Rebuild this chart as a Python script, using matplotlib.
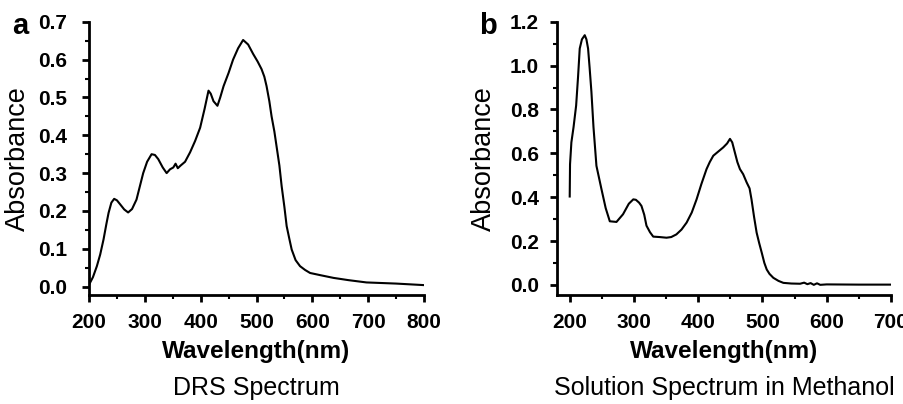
import matplotlib
matplotlib.use('Agg')
import matplotlib.pyplot as plt
from matplotlib.ticker import MultipleLocator

plt.rcParams['font.family'] = ['Liberation Sans', 'DejaVu Sans']

# DRS spectrum (panel a)
drs_wl = [200, 207, 214, 220, 226, 231, 235, 240, 245, 250, 256, 263, 270, 277, 285, 291, 297,
          304, 312, 318, 324, 332, 339, 345, 351, 355, 359, 364, 372, 381, 390, 399, 407, 414,
          418, 423, 430, 435, 441, 450, 458, 467, 476, 485, 494, 502, 509, 514, 518, 523, 527,
          532, 536, 541, 545, 550, 554, 559, 563, 570, 578, 587, 596, 615, 638, 665, 697, 750, 799]
drs_abs = [0.005, 0.025, 0.054, 0.085, 0.125, 0.165, 0.195, 0.222, 0.232, 0.228, 0.217, 0.204, 0.196,
           0.205, 0.23, 0.265, 0.30, 0.33, 0.35, 0.348, 0.337, 0.315, 0.30, 0.31, 0.315, 0.325,
           0.313, 0.32, 0.33, 0.355, 0.385, 0.42, 0.47, 0.518, 0.51, 0.49, 0.478, 0.50, 0.53,
           0.565, 0.60, 0.63, 0.652, 0.64, 0.615, 0.595, 0.575, 0.555, 0.53, 0.49, 0.45, 0.41,
           0.37, 0.32, 0.266, 0.21, 0.16, 0.125, 0.098, 0.07, 0.054, 0.044, 0.036, 0.03, 0.023,
           0.017, 0.011, 0.008, 0.004]

# Solution spectrum in methanol (panel b)
sol_wl = [200, 200.5, 202.6, 206, 210, 213, 215.6, 219, 223.4, 226, 228.6, 231, 233.8, 237,
          241.6, 249.4, 256, 262.4, 272.8, 283, 292, 299, 303, 308, 311.7, 316, 319.5, 325, 330,
          340, 350.7, 358, 366, 374, 382, 390, 397.5, 405, 413, 418, 423.5, 430, 439, 445, 449.5,
          453, 457, 461, 465, 470, 475.5, 480, 483, 487, 491, 495, 499, 503, 506.7, 511, 517,
          525, 532.6, 545, 558.6, 565, 570, 575, 580, 585, 590, 600, 650, 699]
sol_abs = [0.403, 0.55, 0.65, 0.72, 0.818, 0.95, 1.078, 1.12, 1.139, 1.12, 1.078, 0.99, 0.88,
           0.72, 0.543, 0.437, 0.35, 0.29, 0.287, 0.322, 0.37, 0.39, 0.388, 0.375, 0.36, 0.32,
           0.27, 0.24, 0.22, 0.218, 0.215, 0.218, 0.23, 0.252, 0.284, 0.33, 0.39, 0.46, 0.528,
           0.56, 0.589, 0.605, 0.627, 0.645, 0.666, 0.65, 0.605, 0.56, 0.528, 0.505, 0.467, 0.44,
           0.39, 0.31, 0.238, 0.19, 0.146, 0.1, 0.07, 0.05, 0.032, 0.018, 0.009, 0.006, 0.005,
           0.01, 0.003, 0.008, 0.0, 0.007, 0.0, 0.002, 0.001, 0.001]

fig = plt.figure(figsize=(9.04, 4.04), dpi=100)
ax1 = fig.add_axes([0.0985, 0.270, 0.3705, 0.676])
ax2 = fig.add_axes([0.616, 0.270, 0.3695, 0.676])

ax1.plot(drs_wl, drs_abs, color='black', linewidth=1.5)
ax2.plot(sol_wl, sol_abs, color='black', linewidth=1.5)

ax1.set_xlim(200, 800)
ax1.set_ylim(-0.022, 0.7)
ax1.xaxis.set_major_locator(MultipleLocator(100))
ax1.xaxis.set_minor_locator(MultipleLocator(50))
ax1.yaxis.set_major_locator(MultipleLocator(0.1))
ax1.yaxis.set_minor_locator(MultipleLocator(0.05))
ax1.yaxis.set_major_formatter(plt.FormatStrFormatter('%.1f'))

ax2.set_xlim(180, 700)
ax2.set_ylim(-0.046, 1.2)
ax2.xaxis.set_major_locator(MultipleLocator(100))
ax2.xaxis.set_minor_locator(MultipleLocator(50))
ax2.yaxis.set_major_locator(MultipleLocator(0.2))
ax2.yaxis.set_minor_locator(MultipleLocator(0.1))
ax2.yaxis.set_major_formatter(plt.FormatStrFormatter('%.1f'))

for ax, letter, lx, title, ypad in [(ax1, 'a', 20, 'DRS Spectrum', 11),
                                    (ax2, 'b', 488, 'Solution Spectrum in Methanol', 8)]:
    for side in ['top', 'right']:
        ax.spines[side].set_visible(False)
    for side in ['left', 'bottom']:
        ax.spines[side].set_linewidth(2.0)
    ax.tick_params(which='major', direction='out', length=5, width=2.0, labelsize=15)
    ax.tick_params(which='minor', direction='out', length=3, width=1.5)
    ax.tick_params(axis='x', which='major', pad=8)
    ax.tick_params(axis='y', which='major', pad=ypad)
    for lab in ax.get_xticklabels() + ax.get_yticklabels():
        lab.set_fontweight('bold')
    ax.set_ylabel('Absorbance', fontsize=19.5)
    ax.set_xlabel('Wavelength(nm)', fontsize=17.5, fontweight='bold')
    ax.xaxis.set_label_coords(0.5, -0.209)
    ax.xaxis.label.set_verticalalignment('center')
    ax.text(0.5, -0.34, title, transform=ax.transAxes, ha='center', va='center', fontsize=18)
    fig.text(lx / 904, 1 - 26 / 404, letter, ha='center', va='center', fontsize=21, fontweight='bold')

ax1.yaxis.set_label_coords(-0.173, 0.5)
ax2.yaxis.set_label_coords(-0.18, 0.5)

fig.savefig('out.png', dpi=100)
